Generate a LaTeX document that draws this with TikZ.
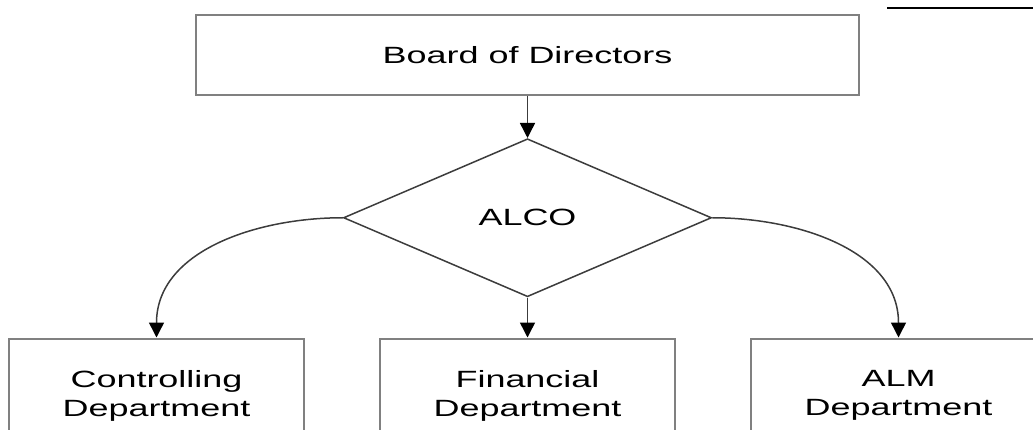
\documentclass[tikz,border=0pt]{standalone}
\usepackage{fontspec}
\setmainfont{Liberation Sans}[FakeStretch=1.53]
\usepackage{xcolor}
\usepackage{tikz}
\usetikzlibrary{positioning, arrows.meta, shapes.geometric}
\definecolor{boxgray}{RGB}{128,128,128}
\definecolor{linegray}{RGB}{60,60,60}
\tikzset{
  board/.style={
    rectangle, draw=boxgray, line width=2pt, minimum width=663pt,
    minimum height=80pt, inner sep=0pt, font=\fontsize{23.5}{29}\selectfont
  },
  decision/.style={
    diamond, draw=linegray, line width=1.5pt, minimum width=368pt,
    minimum height=158pt, inner sep=0pt, font=\fontsize{23.5}{29}\selectfont
  },
  dept/.style={
    rectangle, draw=boxgray, line width=2pt, minimum width=295pt,
    minimum height=114pt, inner sep=0pt, align=center,
    font=\fontsize{23.5}{29}\selectfont
  },
  link/.style={draw=linegray, line width=1.5pt,
    -{Triangle[length=15pt,width=15pt,color=black]}},
}
\begin{document}
\begin{tikzpicture}[x=1pt, y=-1pt, node distance=40pt]
  \path[use as bounding box, clip] (0,0) rectangle (1033,430);
  \node[board] (board) at (527.5,55) {Board of Directors};
  \node[decision, below=42pt of board] (alco) {ALCO};
  \node[dept, below=of alco] (fin) {Financial\\Department};
  \node[dept, left=74pt of fin] (ctrl) {Controlling\\Department};
  \node[dept, right=74pt of fin] (alm) {ALM\\Department};
  % connectors
  \draw[link] (board) -- (alco);
  \draw[link] (alco) -- (fin);
  \draw[link] (alco.west) to[out=180, in=90] (ctrl.north);
  \draw[link] (alco.east) to[out=0, in=90] (alm.north);
  % rule at top right
  \coordinate (rule start) at (887,8);
  \coordinate (rule end) at (1040,8);
  \draw[black, line width=2pt] (rule start) -- (rule end);
\end{tikzpicture}
\end{document}
